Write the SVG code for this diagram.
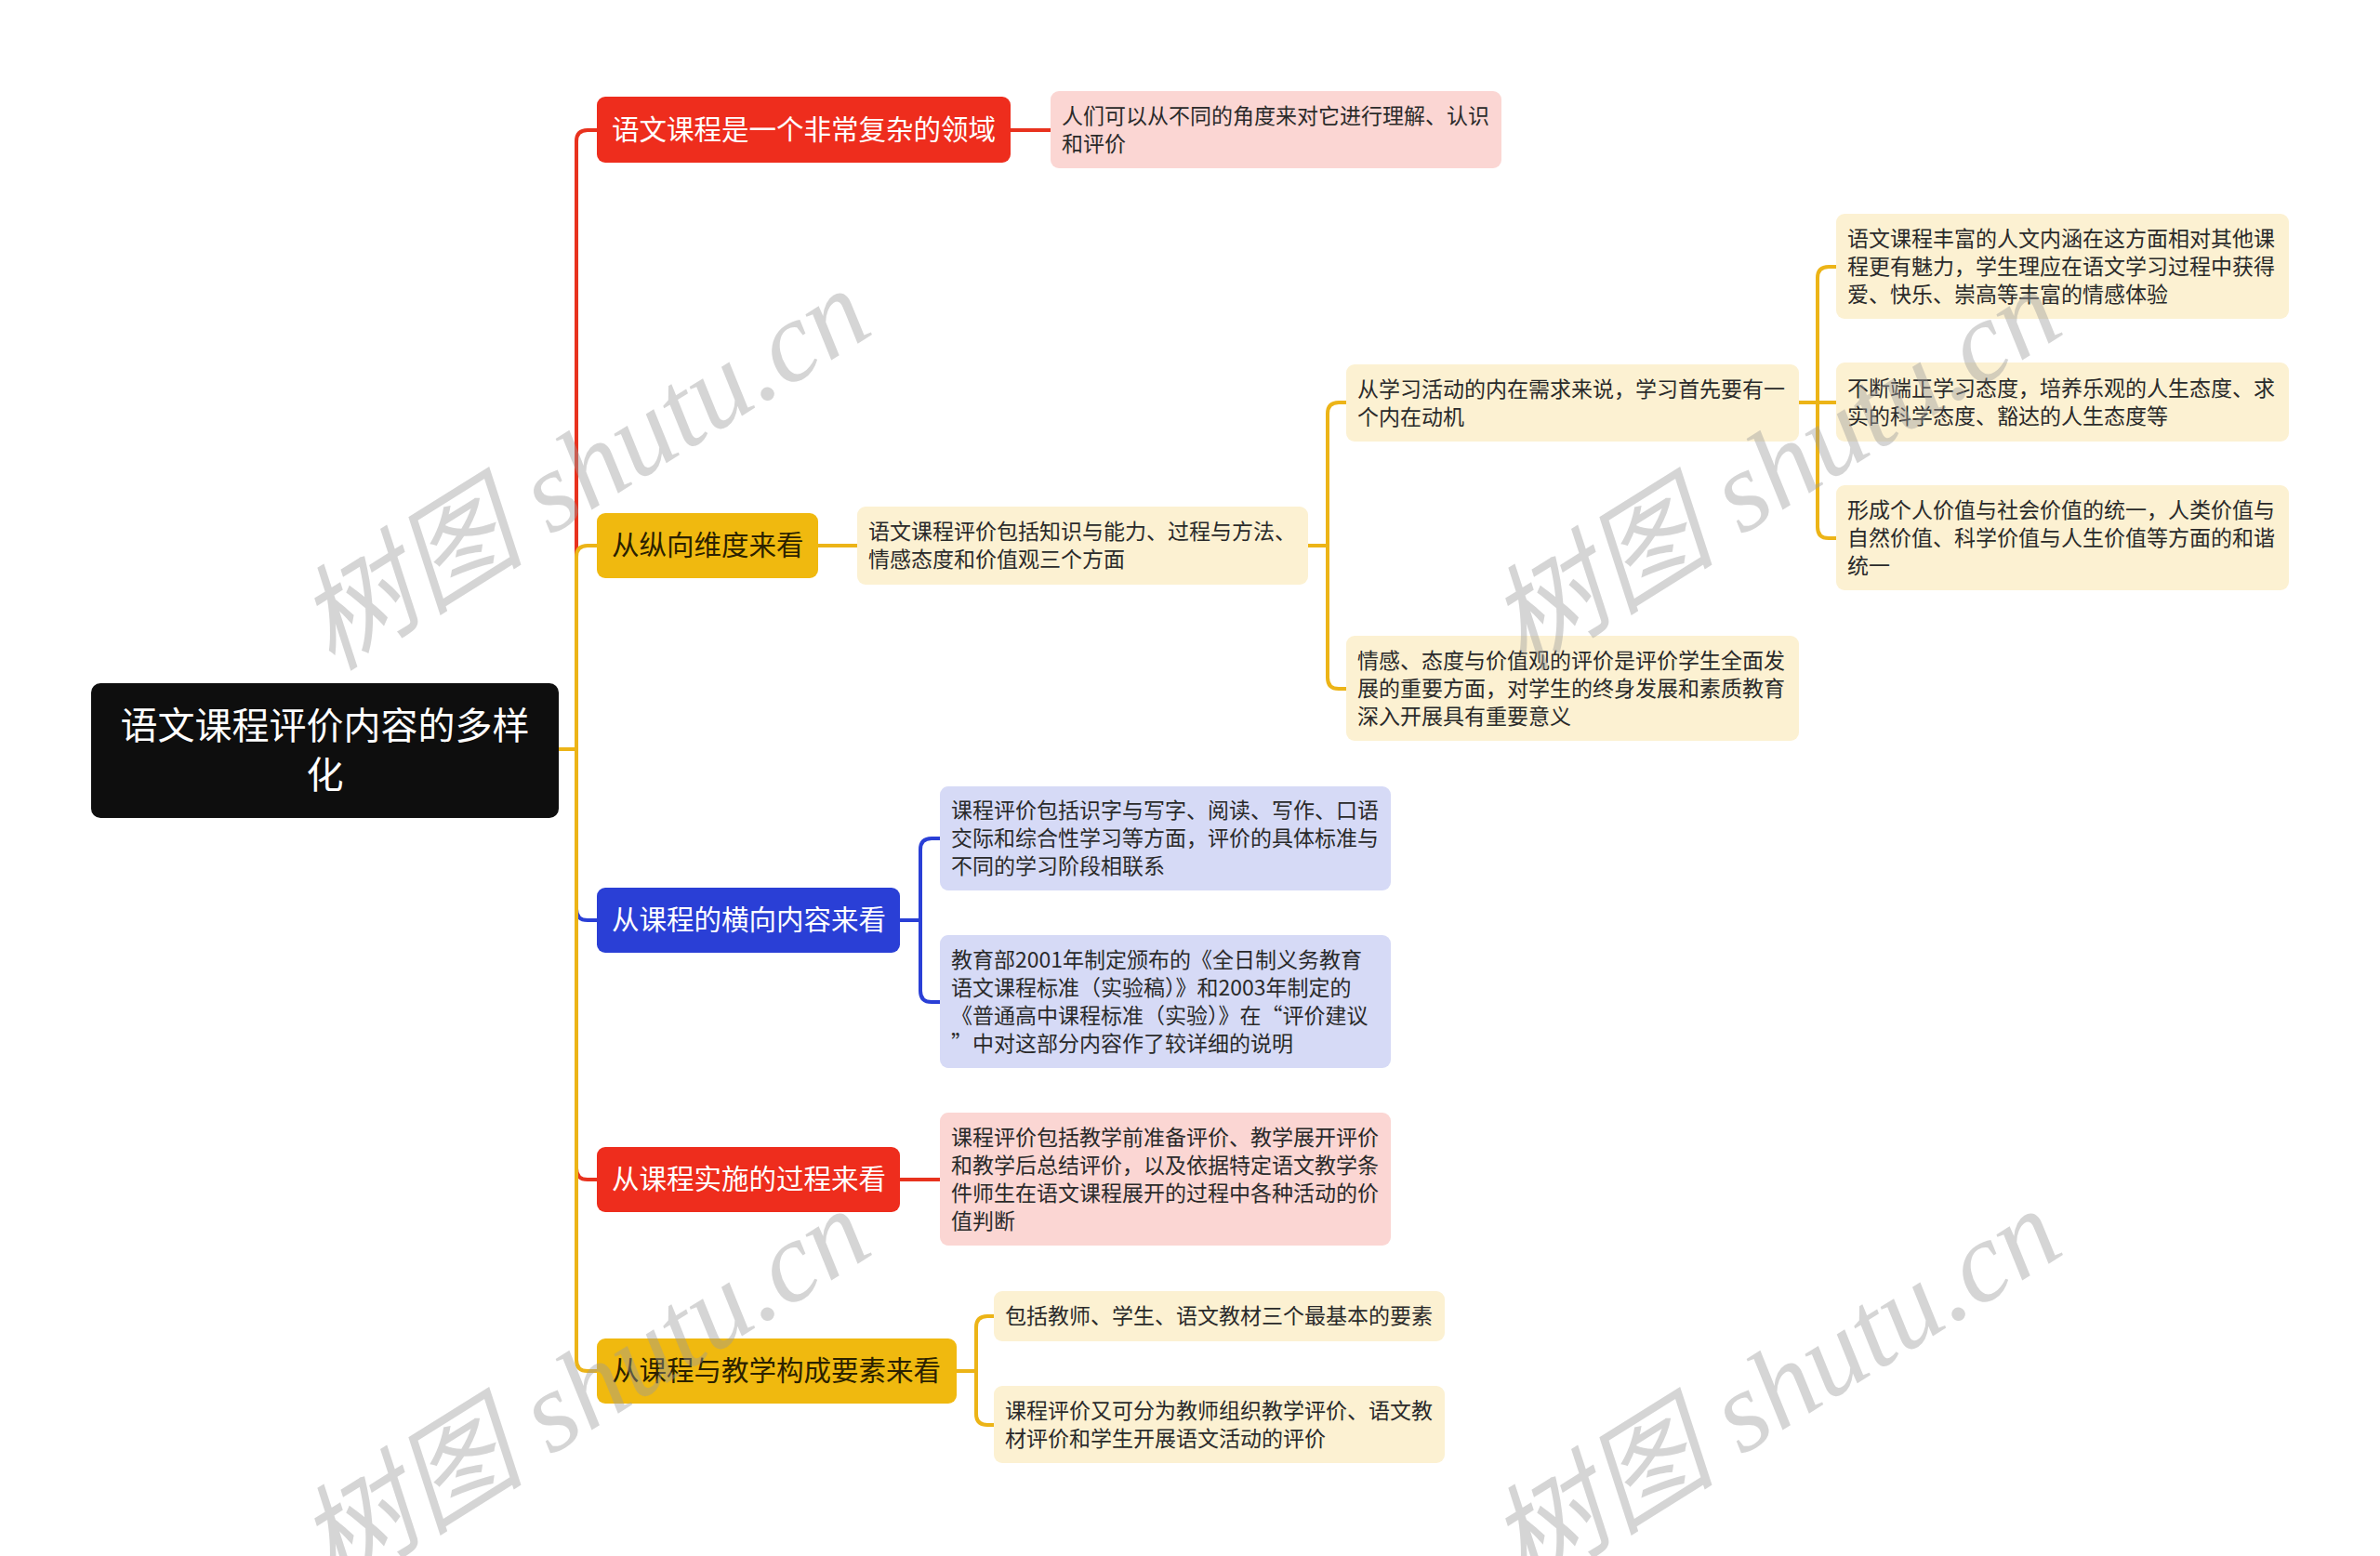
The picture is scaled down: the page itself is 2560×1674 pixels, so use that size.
<svg xmlns="http://www.w3.org/2000/svg" width="2560" height="1674" viewBox="0 0 2560 1674">
<style>
.l1{font-family:"Noto Sans CJK SC","Noto Sans",sans-serif;font-size:29.5px}
.t{font-family:"Noto Sans CJK SC","Noto Sans",sans-serif;font-size:23px;fill:#2a2a2a}
.w{fill:#ffffff}
.dk{fill:#2b2100}
.c{fill:none;stroke-width:4;stroke-linecap:round;stroke-linejoin:round}
.cy{stroke:#ecb417}.cr{stroke:#e8321e}.cb{stroke:#2a3fd6}
.ny{fill:#fcf1d2}.np{fill:#fbd6d3}.nl{fill:#d6daf6}
.wm{font-family:"Liberation Serif","Noto Sans CJK SC",serif;font-style:italic;font-size:123px;fill:#9a9a9a;fill-opacity:0.42}
</style>
<rect width="2560" height="1674" fill="#ffffff"/>
<g id="connectors">
<path class="c cr" d="M601,806 H620 V152 Q620,140 632,140 H642"/>
<path class="c cb" d="M601,806 H620 V978 Q620,990 632,990 H642"/>
<path class="c cr" d="M601,806 H620 V1257 Q620,1269 632,1269 H642"/>
<path class="c cy" d="M601,806 H620 V599 Q620,587 632,587 H642"/>
<path class="c cy" d="M601,806 H620 V1463 Q620,1475 632,1475 H642"/>
<path class="c cr" d="M1087,140 H1130"/>
<path class="c cy" d="M880,587 H922"/>
<path class="c cy" d="M1407,587 H1428 V445 Q1428,433 1440,433 H1448"/>
<path class="c cy" d="M1428,587 V729 Q1428,741 1440,741 H1448"/>
<path class="c cy" d="M1935,433 H1975"/>
<path class="c cy" d="M1955,433 V299 Q1955,287 1967,287 H1975"/>
<path class="c cy" d="M1955,433 V567 Q1955,579 1967,579 H1975"/>
<path class="c cb" d="M968,990 H990 V914 Q990,902 1002,902 H1011"/>
<path class="c cb" d="M990,990 V1066 Q990,1078 1002,1078 H1011"/>
<path class="c cr" d="M968,1269 H1011"/>
<path class="c cy" d="M1029,1475 H1050 V1428 Q1050,1416 1062,1416 H1069"/>
<path class="c cy" d="M1050,1475 V1521 Q1050,1533 1062,1533 H1069"/>
</g>
<g id="root">
<rect x="98" y="735" width="503" height="145" rx="10" fill="#0e0e0e"/>
<text class="w" x="349.5" y="795" text-anchor="middle" font-family="'Noto Sans CJK SC',sans-serif" font-size="40">语文课程评价内容的多样</text>
<text class="w" x="349.5" y="848" text-anchor="middle" font-family="'Noto Sans CJK SC',sans-serif" font-size="40">化</text>
</g>
<g id="n1">
<rect x="642" y="104" width="445" height="71" rx="9" fill="#ee2d1d"/>
<text class="l1 w" x="658" y="150">语文课程是一个非常复杂的领域</text>
</g>
<g id="n2">
<rect x="642" y="552" width="238" height="70" rx="9" fill="#f0b90f"/>
<text class="l1 dk" x="658" y="597">从纵向维度来看</text>
</g>
<g id="n3">
<rect x="642" y="955" width="326" height="70" rx="9" fill="#2a3fd6"/>
<text class="l1 w" x="658" y="1000">从课程的横向内容来看</text>
</g>
<g id="n4">
<rect x="642" y="1234" width="326" height="70" rx="9" fill="#ee2d1d"/>
<text class="l1 w" x="658" y="1279">从课程实施的过程来看</text>
</g>
<g id="n5">
<rect x="642" y="1440" width="387" height="70" rx="9" fill="#f0b90f"/>
<text class="l1 dk" x="658" y="1485">从课程与教学构成要素来看</text>
</g>
<g id="p1">
<rect class="np" x="1130" y="98" width="485" height="83" rx="9"/>
<text class="t" x="1142" y="132.5">人们可以从不同的角度来对它进行理解、认识</text>
<text class="t" x="1142" y="162.5">和评价</text>
</g>
<g id="c2">
<rect class="ny" x="922" y="545" width="485" height="84" rx="9"/>
<text class="t" x="934" y="580">语文课程评价包括知识与能力、过程与方法、</text>
<text class="t" x="934" y="610">情感态度和价值观三个方面</text>
</g>
<g id="ca">
<rect class="ny" x="1448" y="392" width="487" height="83" rx="9"/>
<text class="t" x="1460" y="426.5">从学习活动的内在需求来说，学习首先要有一</text>
<text class="t" x="1460" y="456.5">个内在动机</text>
</g>
<g id="cb">
<rect class="ny" x="1448" y="684" width="487" height="113" rx="9"/>
<text class="t" x="1460" y="718.5">情感、态度与价值观的评价是评价学生全面发</text>
<text class="t" x="1460" y="748.5">展的重要方面，对学生的终身发展和素质教育</text>
<text class="t" x="1460" y="778.5">深入开展具有重要意义</text>
</g>
<g id="a1">
<rect class="ny" x="1975" y="230" width="487" height="113" rx="9"/>
<text class="t" x="1987" y="264.5">语文课程丰富的人文内涵在这方面相对其他课</text>
<text class="t" x="1987" y="294.5">程更有魅力，学生理应在语文学习过程中获得</text>
<text class="t" x="1987" y="324.5">爱、快乐、崇高等丰富的情感体验</text>
</g>
<g id="a2">
<rect class="ny" x="1975" y="390" width="487" height="85" rx="9"/>
<text class="t" x="1987" y="425.5">不断端正学习态度，培养乐观的人生态度、求</text>
<text class="t" x="1987" y="455.5">实的科学态度、豁达的人生态度等</text>
</g>
<g id="a3">
<rect class="ny" x="1975" y="522" width="487" height="113" rx="9"/>
<text class="t" x="1987" y="556.5">形成个人价值与社会价值的统一，人类价值与</text>
<text class="t" x="1987" y="586.5">自然价值、科学价值与人生价值等方面的和谐</text>
<text class="t" x="1987" y="616.5">统一</text>
</g>
<g id="b1">
<rect class="nl" x="1011" y="846" width="485" height="112" rx="9"/>
<text class="t" x="1023" y="880">课程评价包括识字与写字、阅读、写作、口语</text>
<text class="t" x="1023" y="910">交际和综合性学习等方面，评价的具体标准与</text>
<text class="t" x="1023" y="940">不同的学习阶段相联系</text>
</g>
<g id="b2">
<rect class="nl" x="1011" y="1006" width="485" height="143" rx="9"/>
<text class="t" x="1023" y="1040.5">教育部2001年制定颁布的《全日制义务教育</text>
<text class="t" x="1023" y="1070.5">语文课程标准（实验稿）》和2003年制定的</text>
<text class="t" x="1023" y="1100.5">《普通高中课程标准（实验）》在“评价建议</text>
<text class="t" x="1023" y="1130.5">”中对这部分内容作了较详细的说明</text>
</g>
<g id="c1">
<rect class="np" x="1011" y="1197" width="485" height="143" rx="9"/>
<text class="t" x="1023" y="1231.5">课程评价包括教学前准备评价、教学展开评价</text>
<text class="t" x="1023" y="1261.5">和教学后总结评价，以及依据特定语文教学条</text>
<text class="t" x="1023" y="1291.5">件师生在语文课程展开的过程中各种活动的价</text>
<text class="t" x="1023" y="1321.5">值判断</text>
</g>
<g id="d1">
<rect class="ny" x="1069" y="1389" width="485" height="54" rx="9"/>
<text class="t" x="1081" y="1424">包括教师、学生、语文教材三个最基本的要素</text>
</g>
<g id="d2">
<rect class="ny" x="1069" y="1491" width="485" height="83" rx="9"/>
<text class="t" x="1081" y="1525.5">课程评价又可分为教师组织教学评价、语文教</text>
<text class="t" x="1081" y="1555.5">材评价和学生开展语文活动的评价</text>
</g>
<g id="watermarks">
<text class="wm" x="0" y="0" text-anchor="middle" transform="translate(650,540) rotate(-32)">树图 shutu.cn</text>
<text class="wm" x="0" y="0" text-anchor="middle" transform="translate(1931,540) rotate(-32)">树图 shutu.cn</text>
<text class="wm" x="0" y="0" text-anchor="middle" transform="translate(650,1530) rotate(-32)">树图 shutu.cn</text>
<text class="wm" x="0" y="0" text-anchor="middle" transform="translate(1931,1530) rotate(-32)">树图 shutu.cn</text>
</g>
</svg>
